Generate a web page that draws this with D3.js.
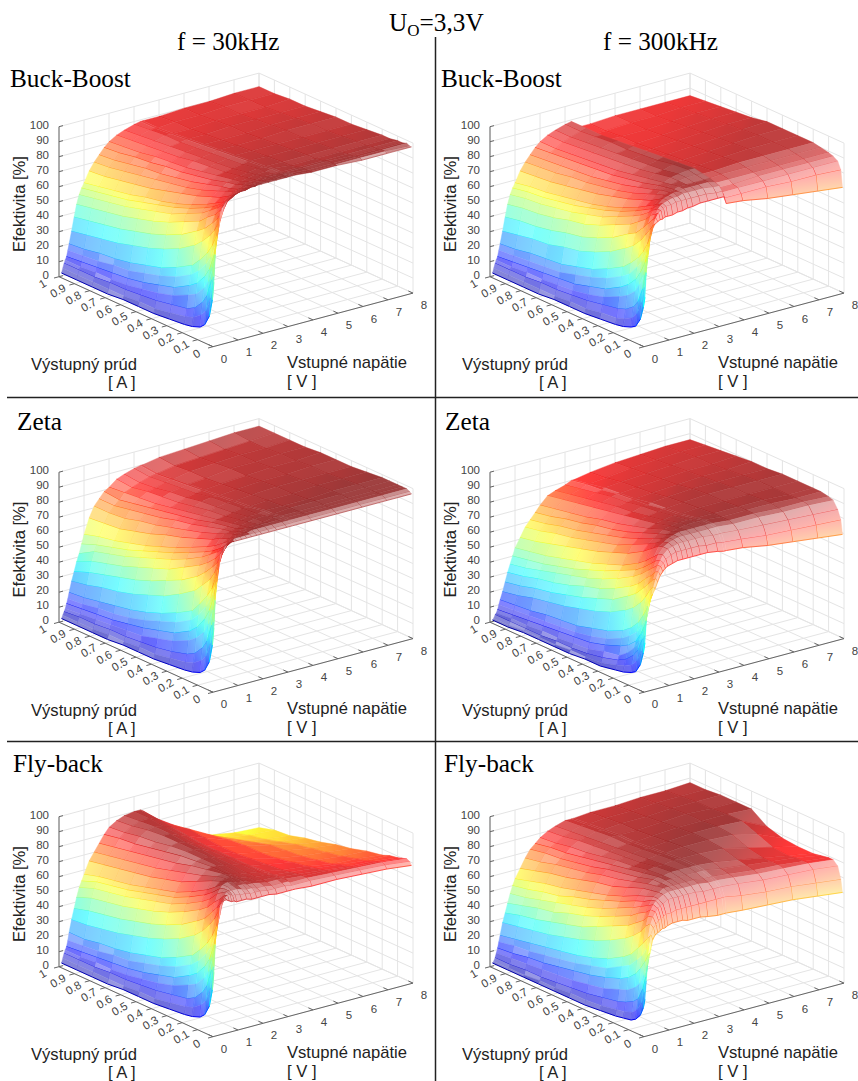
<!DOCTYPE html>
<html lang="sk">
<head>
  <meta charset="UTF-8">
  <title>Efektivita meničov</title>
  <style>
    body { margin: 0; background: white; }
    text { font-family: "Liberation Sans", Arial, sans-serif; fill: #000; }
    .serif { font-family: "Liberation Serif", "Times New Roman", serif; }
    .tick { font-size: 11.5px; fill: #444; }
    .label { font-size: 16.6px; fill: #222; }
  </style>
</head>
<body>
  <svg id="chart" width="858" height="1081"></svg>

  <script src="https://d3js.org/d3.v7.min.js"></script>
  <script>
    // grid the tables are read on
    const currents = [0.01, 0.02, 0.04, 0.07, 0.1, 0.15, 0.2, 0.3, 0.4, 0.5, 0.6, 0.7, 0.8, 0.9, 1];
    const voltages = [0.1, 0.15, 0.2, 0.25, 0.3, 0.35, 0.4, 0.5, 0.6, 0.7, 0.8, 0.9, 1, 1.2, 1.4, 1.6, 1.8, 2, 2.3, 2.6, 3, 3.25, 3.35, 4, 5, 6, 7, 8];

    const currentTicks = [0, 0.1, 0.2, 0.3, 0.4, 0.5, 0.6, 0.7, 0.8, 0.9, 1];
    const voltageTicks = [0, 1, 2, 3, 4, 5, 6, 7, 8];
    const effTicks = [0, 10, 20, 30, 40, 50, 60, 70, 80, 90, 100];

    // efficiency [%], one row per current, one column per voltage
    const buckBoost30 = [
      [42,60,72,78,84,88,90,92,94,95,96,97,97,98,98,99,99,99,99,99,99,99,99,98,98,97,97,97],
      [30,45,60,66,72,77,81,86,90,93,94,95,96,97,97,98,98,99,99,99,99,99,99,98,98,98,98,97],
      [18,30,42,50,58,64,70,79,85,88,91,92,93,95,96,96,97,98,98,98,99,99,99,98,98,98,98,98],
      [11,20,30,39,47,55,62,72,79,84,87,89,90,92,94,95,96,97,97,98,98,98,98,98,98,97,97,97],
      [8,16,24,33,41,49,56,67,75,80,84,86,87,90,92,93,95,96,96,97,97,97,97,97,97,97,97,97],
      [6,12,18,27,34,42,49,61,69,76,80,82,84,87,90,91,93,94,95,96,96,97,97,96,96,96,96,96],
      [5,10,15,24,30,37,43,56,65,71,76,79,81,85,88,90,92,93,94,95,96,96,96,96,96,96,96,96],
      [4,8,13,19,24,31,37,49,58,66,71,74,76,81,84,87,89,91,92,93,94,95,95,95,95,95,95,95],
      [3,6,11,16,21,27,32,44,53,61,66,70,72,78,81,84,87,89,91,92,93,94,94,94,94,94,94,94],
      [3,6,10,14,18,24,29,40,49,57,63,67,69,75,79,82,85,87,90,91,92,93,93,93,93,94,94,94],
      [3,5,9,12,16,21,26,37,46,54,60,64,67,72,77,80,84,86,88,90,91,92,92,92,92,93,93,93],
      [2,5,9,11,15,20,24,34,43,51,57,61,64,70,75,79,82,85,87,89,90,91,91,91,92,92,92,92],
      [2,5,8,11,14,18,23,32,41,49,55,59,62,68,73,77,81,83,86,88,90,90,90,90,91,91,91,92],
      [2,5,8,10,13,17,21,30,39,47,53,57,60,66,71,75,79,82,85,87,89,89,89,90,90,91,91,91],
      [2,5,8,10,12,16,20,28,37,45,51,55,58,65,70,74,78,81,84,86,88,89,89,89,90,90,91,91]
    ];

    const buckBoost300 = [
      [32,48,58,65,70,73,76,79,80,81,81,82,82,82,83,83,84,84,85,85,85,85,80,79,76,74,72,70],
      [25,38,48,55,61,68,72,78,82,85,86,87,88,88,89,89,89,89,89,89,88,88,83,83,83,82,82,81],
      [16,27,36,45,53,60,65,74,80,83,86,88,89,90,91,91,92,92,92,92,91,91,86,86,86,86,86,86],
      [10,18,26,37,45,52,58,69,76,81,84,86,87,90,91,92,92,93,93,93,93,92,87,87,88,88,88,88],
      [8,14,21,31,39,47,53,64,72,77,81,83,85,88,90,91,92,93,93,93,93,93,89,89,89,89,89,89],
      [6,11,17,26,33,40,47,58,66,73,77,80,82,85,88,90,91,92,93,94,94,94,89,90,90,90,90,90],
      [5,9,15,23,29,36,42,54,63,69,74,77,79,83,86,88,90,91,93,94,95,95,90,90,91,91,91,91],
      [4,8,13,18,23,30,36,47,56,64,69,72,74,79,82,85,87,89,91,92,94,94,89,89,90,91,91,91],
      [3,6,11,15,20,26,31,42,51,59,64,68,70,76,79,82,85,87,89,91,92,93,88,88,89,90,91,91],
      [3,6,10,13,17,23,28,38,47,55,61,65,67,73,77,80,83,85,88,90,91,92,87,87,88,89,90,91],
      [3,5,9,12,16,20,25,36,45,53,58,62,65,71,75,78,82,84,87,89,90,91,86,86,87,88,89,89],
      [2,5,9,11,15,19,24,33,42,50,56,60,63,69,74,77,81,83,86,88,90,90,85,85,86,87,88,88],
      [2,5,8,11,14,18,23,32,40,48,54,58,61,67,72,76,80,82,85,87,89,89,85,85,85,86,87,87],
      [2,5,8,10,13,17,21,30,39,47,53,57,60,66,71,75,79,81,84,86,88,89,84,84,85,85,86,86],
      [2,5,8,10,12,16,20,28,37,45,51,55,58,65,70,74,78,81,84,86,88,89,84,84,85,85,85,85]
    ];

    const zeta30 = [
      [42,60,72,80,86,90,91,94,95,96,96,96,96,96,96,96,96,96,96,96,96,96,96,96,96,96,96,96],
      [30,45,60,67,74,80,85,90,92,94,95,96,97,97,97,97,97,97,97,97,97,97,97,97,97,97,97,97],
      [18,30,42,52,61,68,74,82,87,90,92,93,95,96,97,97,98,98,98,98,98,98,98,98,98,98,98,98],
      [11,20,30,41,50,58,64,74,80,85,88,90,92,94,95,96,97,97,98,98,98,98,98,98,98,98,98,98],
      [8,16,24,34,43,51,58,68,76,81,85,87,90,92,94,95,96,96,97,97,98,98,98,98,98,98,98,98],
      [6,12,18,28,35,43,50,62,70,76,81,83,86,90,92,93,94,95,96,97,97,97,97,98,98,98,98,98],
      [5,10,15,24,30,37,43,56,65,72,77,80,83,87,90,92,93,94,95,96,96,97,97,97,97,98,98,98],
      [4,8,12,19,24,31,37,49,58,66,71,75,78,83,86,89,91,92,93,94,95,95,95,96,96,97,97,97],
      [3,6,10,16,21,27,32,43,53,60,66,70,73,79,83,86,88,90,92,93,94,94,94,95,96,96,96,96],
      [3,6,9,13,18,23,28,39,48,56,62,66,69,76,80,84,86,88,90,92,93,93,93,94,95,95,96,96],
      [3,5,8,12,16,20,25,35,44,52,58,62,65,72,77,81,84,86,88,90,91,92,92,93,94,95,95,96],
      [2,5,8,11,14,18,23,32,41,48,54,58,62,69,75,79,82,84,87,89,90,91,91,92,94,94,95,95],
      [2,4,7,10,13,17,21,30,38,45,51,55,59,66,72,77,80,83,86,87,89,90,90,92,93,94,94,95],
      [2,4,7,9,12,15,19,27,35,42,48,52,57,65,71,75,78,82,84,86,88,89,89,91,92,93,94,95],
      [2,4,6,8,11,14,18,25,31,37,42,48,54,64,71,75,79,81,85,87,89,90,90,92,93,94,95,95]
    ];

    // this one: one row per voltage, one column per current
    const zeta300ByVoltage = [
      [32,25,16,10,8,6,5,3,3,2,2,2,2,1,1],
      [46,36,25,17,13,10,8,5,4,4,3,3,3,2,2],
      [56,46,33,24,19,14,11,8,6,5,5,4,4,4,4],
      [58,50,38,30,24,18,14,12,9,8,7,7,6,6,5],
      [60,54,42,34,28,23,20,16,13,12,11,10,9,8,7],
      [62,57,47,40,34,29,25,20,17,15,14,13,12,11,10],
      [63,60,53,46,40,34,30,25,22,19,18,17,15,14,13],
      [66,67,64,58,53,47,43,37,33,30,27,25,23,20,18],
      [70,72,70,66,62,56,52,45,41,37,34,31,29,26,24],
      [74,76,75,71,68,62,58,52,47,44,40,37,35,32,30],
      [76,79,79,76,73,68,64,58,53,49,46,43,40,37,35],
      [78,81,82,80,77,72,68,63,58,54,50,47,44,42,40],
      [79,83,85,84,81,76,72,66,62,58,55,52,49,47,45],
      [80,85,88,88,87,83,79,73,69,65,62,59,56,53,51],
      [81,86,89,90,89,86,83,78,73,70,67,64,62,59,57],
      [81,86,90,91,91,88,86,81,77,74,71,68,66,63,61],
      [81,86,90,92,92,90,88,84,80,77,75,72,70,67,65],
      [81,86,90,92,93,91,90,86,83,80,78,75,73,71,69],
      [81,86,90,92,93,92,91,88,86,84,82,80,78,76,74],
      [81,85,90,92,93,93,92,89,87,85,84,82,80,78,76],
      [80,85,89,92,93,93,92,90,88,87,85,84,82,80,78],
      [79,84,89,92,93,93,92,90,89,87,86,85,83,82,80],
      [79,84,89,92,93,93,92,90,89,88,86,85,84,82,80],
      [78,83,88,91,92,92,92,91,90,89,87,86,85,83,82],
      [75,81,87,91,92,92,92,91,91,90,88,87,86,85,84],
      [73,80,86,90,91,92,92,91,91,90,89,88,87,86,85],
      [71,79,85,90,91,91,91,91,91,90,89,88,88,87,86],
      [69,78,84,89,90,91,91,91,91,90,90,89,88,87,86]
    ];

    const flyback30 = [
      [42,60,72,78,84,86,87,88,88,87,86,86,85,85,85,84,84,84,84,83,83,83,83,82,82,81,80,78],
      [30,45,60,66,72,76,79,86,89,90,90,89,89,88,88,87,87,87,86,86,86,85,85,85,84,83,82,80],
      [18,30,42,50,58,64,70,80,85,89,91,91,91,91,90,89,89,88,88,87,87,87,86,86,85,84,83,81],
      [11,20,30,39,47,55,62,73,80,85,89,91,92,92,91,91,90,90,89,88,88,87,87,86,85,83,82,80],
      [8,16,24,33,41,49,56,68,76,82,87,90,92,93,92,91,91,90,89,88,88,87,87,86,84,82,81,79],
      [6,12,18,27,34,42,49,61,69,76,81,85,88,91,92,92,91,90,89,88,87,87,86,85,83,81,79,78],
      [5,10,15,24,30,37,43,56,65,72,77,81,84,89,91,92,91,90,89,88,87,86,86,84,82,79,78,76],
      [4,8,13,19,24,31,37,49,58,66,71,75,78,84,87,90,91,91,90,89,87,86,85,83,80,77,75,74],
      [3,6,11,16,21,27,32,44,53,61,66,70,73,79,84,88,90,91,91,89,87,86,85,82,78,75,73,71],
      [3,6,10,14,18,24,29,40,49,57,63,67,70,76,81,85,89,91,91,90,87,86,85,81,77,74,71,69],
      [3,5,9,12,16,21,26,37,46,54,60,64,67,73,78,83,87,90,91,90,87,86,85,81,77,73,69,66],
      [2,5,9,11,15,20,24,34,43,51,57,61,64,71,76,81,85,88,91,91,88,87,86,82,76,70,66,64],
      [2,5,8,11,14,18,23,32,41,49,55,59,62,69,74,79,83,87,90,91,89,88,87,83,74,67,63,61],
      [2,5,8,10,13,17,21,30,39,47,53,57,60,67,72,77,82,85,88,90,90,89,88,81,71,64,61,60],
      [2,5,8,10,12,16,21,29,36,43,49,53,57,65,70,75,80,84,87,89,90,90,89,78,68,61,58,57]
    ];

    // also one row per voltage
    const flyback300ByVoltage = [
      [24,18,12,8,6,5,4,3,2,2,2,2,2,2,2],
      [36,28,20,14,11,9,8,6,5,5,4,4,3,3,3],
      [46,38,29,21,18,15,13,11,9,8,7,6,6,5,5],
      [50,44,38,31,27,23,21,17,15,13,12,11,10,9,8],
      [54,52,47,41,36,31,28,24,21,19,17,15,14,12,11],
      [58,60,55,49,45,39,36,30,27,24,22,20,18,17,15],
      [62,65,62,57,53,46,42,36,32,29,27,25,23,21,19],
      [65,69,71,68,63,58,54,48,43,39,36,33,31,29,27],
      [66,71,75,74,70,66,62,57,52,47,44,41,38,36,33],
      [67,73,78,78,75,72,68,63,58,54,51,47,45,42,39],
      [68,74,80,81,79,76,73,68,63,59,56,53,50,47,45],
      [68,75,81,83,82,79,77,72,68,64,61,57,55,52,50],
      [69,76,82,84,84,82,80,75,71,68,65,62,60,57,54],
      [70,76,84,86,86,85,84,80,76,74,71,68,66,63,60],
      [70,77,84,87,88,87,86,83,80,78,75,73,71,68,66],
      [70,77,84,87,88,88,88,85,83,81,78,76,74,73,71],
      [69,77,84,87,88,89,89,87,85,83,81,79,77,76,74],
      [69,77,84,87,88,89,89,88,86,85,83,81,80,78,77],
      [69,77,84,87,88,89,90,89,87,86,85,84,83,81,80],
      [68,77,83,87,88,89,90,89,88,87,86,85,84,83,82],
      [67,77,83,86,87,89,90,90,89,88,87,87,86,85,84],
      [67,77,83,86,87,89,90,90,89,88,87,87,86,85,84],
      [67,77,83,86,87,89,90,90,89,88,87,87,86,85,84],
      [66,75,82,85,86,87,89,90,90,89,88,87,87,86,85],
      [65,73,80,83,84,85,86,89,90,90,89,88,87,86,85],
      [64,72,79,82,83,83,83,85,89,90,89,89,88,87,86],
      [62,70,78,81,81,81,80,81,85,89,89,88,88,87,86],
      [60,68,76,79,79,78,77,77,78,81,88,88,88,87,87]
    ];

    const panelNames = ["Buck-Boost", "Buck-Boost", "Zeta", "Zeta", "Fly-back", "Fly-back"];
    const panelTables = [buckBoost30, buckBoost300, zeta30, d3.transpose(zeta300ByVoltage), flyback30, d3.transpose(flyback300ByVoltage)];
    const colShift = [0, 431];
    const rowShift = [0, 345.5, 690];

    // projection of the 3D box onto the page
    const xFromI = d3.scaleLinear().domain([0, 1]).range([213, 59]);
    const yFromI = d3.scaleLinear().domain([0, 1]).range([346.7, 276.7]);
    const xFromV = d3.scaleLinear().domain([0, 8]).range([0, 200]);
    const yFromV = d3.scaleLinear().domain([0, 8]).range([0, -53.6]);
    const yFromZ = d3.scaleLinear().domain([0, 100]).range([0, -150]);
    const project = (i, v, z) => [xFromI(i) + xFromV(v), yFromI(i) + yFromV(v) + yFromZ(z)];

    // jet colormap, stretched to the highest value of each panel like matlab does
    const jetStops = [0, 0.125, 0.375, 0.625, 0.875, 1];
    const jetColors = ["#00008f", "#0000ff", "#00ffff", "#ffff00", "#ff0000", "#800000"];

    // the original is a wire mesh with a step of 0.01 A and 0.1 V, so its colour
    // strength depends on how tightly those wires sit on the page
    const wire = 0.8;
    const stepI = 0.01, stepV = 0.1;
    const dist = (p, q) => Math.hypot(p[0] - q[0], p[1] - q[1]);

    const svg = d3.select("#chart");
    svg.append("rect").attr("width", 858).attr("height", 1081).attr("fill", "white");
    const defs = svg.append("defs");
    let gradCount = 0;

    const seg = (g, a, b, color, width) => g.append("line")
      .attr("x1", a[0]).attr("y1", a[1]).attr("x2", b[0]).attr("y2", b[1])
      .attr("stroke", color).attr("stroke-width", width);

    function drawBox(g) {
      const grid = "#e4e4e4";
      currentTicks.forEach(i => {
        seg(g, project(i, 0, 0), project(i, 8, 0), grid, 1);
        seg(g, project(i, 8, 0), project(i, 8, 100), grid, 1);
      });
      voltageTicks.forEach(v => {
        seg(g, project(0, v, 0), project(1, v, 0), grid, 1);
        seg(g, project(1, v, 0), project(1, v, 100), grid, 1);
      });
      effTicks.forEach(z => {
        seg(g, project(1, 0, z), project(1, 8, z), grid, 1);
        seg(g, project(1, 8, z), project(0, 8, z), grid, 1);
      });

      const axis = "#666";
      seg(g, project(1, 0, 0), project(0, 0, 0), axis, 1);
      seg(g, project(0, 0, 0), project(0, 8, 0), axis, 1);
      seg(g, project(1, 0, 0), project(1, 0, 100), axis, 1);

      currentTicks.forEach(i => {
        const p = project(i, 0, 0);
        seg(g, p, project(i, -0.2, 0), axis, 1);
        g.append("text").attr("class", "tick")
          .attr("text-anchor", "middle")
          .attr("dy", "0.35em")
          .attr("transform", `translate(${p[0] - 16.5},${p[1] + 7}) rotate(-30)`)
          .text(i);
      });
      voltageTicks.forEach(v => {
        const p = project(0, v, 0);
        seg(g, p, project(0.03, v, 0), axis, 1);
        g.append("text").attr("class", "tick")
          .attr("text-anchor", "middle")
          .attr("x", p[0] + 11).attr("y", p[1] + 16)
          .text(v);
      });
      effTicks.forEach(z => {
        const p = project(1, 0, z);
        seg(g, p, project(1, 0.16, z), axis, 1);
        g.append("text").attr("class", "tick")
          .attr("text-anchor", "end")
          .attr("x", p[0] - 10).attr("y", p[1] + 2)
          .text(z);
      });
    }

    function drawSurface(g, table) {
      const top = d3.max(table.flat());
      const jet = d3.scaleLinear().domain(jetStops.map(s => s * top)).range(jetColors);

      // back to front, the viewer stands at the corner I=0, V=0
      for (let a = currents.length - 2; a >= 0; a--) {
        for (let b = voltages.length - 2; b >= 0; b--) {
          const corners = [
            project(currents[a], voltages[b], table[a][b]),
            project(currents[a], voltages[b + 1], table[a][b + 1]),
            project(currents[a + 1], voltages[b + 1], table[a + 1][b + 1]),
            project(currents[a + 1], voltages[b], table[a + 1][b])
          ];
          const zNear = (table[a][b] + table[a][b + 1]) / 2;
          const zFar = (table[a + 1][b] + table[a + 1][b + 1]) / 2;

          const cellsV = (voltages[b + 1] - voltages[b]) / stepV;
          const cellsI = (currents[a + 1] - currents[a]) / stepI;
          const area = Math.max(Math.abs(d3.polygonArea(corners)) / (cellsV * cellsI), 0.5);
          const alongV = dist(corners[0], corners[1]) / cellsV;
          const alongI = dist(corners[0], corners[3]) / cellsI;
          const gapV = area / alongI;   // distance between lines of constant voltage
          const gapI = area / alongV;   // distance between lines of constant current
          const strength = Math.max(0.32, Math.min(wire / gapI, 0.78));
          const shade = z => d3.interpolateRgb("#fff", jet(z))(strength);

          const id = "cell" + gradCount++;
          const grad = defs.append("linearGradient").attr("id", id)
            .attr("gradientUnits", "userSpaceOnUse")
            .attr("x1", (corners[0][0] + corners[1][0]) / 2).attr("y1", (corners[0][1] + corners[1][1]) / 2)
            .attr("x2", (corners[3][0] + corners[2][0]) / 2).attr("y2", (corners[3][1] + corners[2][1]) / 2);
          grad.append("stop").attr("offset", 0).attr("stop-color", shade(zNear));
          grad.append("stop").attr("offset", 1).attr("stop-color", shade(zFar));

          g.append("path")
            .attr("d", d3.line()(corners) + "Z")
            .attr("fill", `url(#${id})`)
            .attr("stroke", shade((zNear + zFar) / 2))
            .attr("stroke-width", 0.4)
            .attr("stroke-linejoin", "round");

          // the wires themselves show where they stand apart
          const onTenth = Math.abs(voltages[b] * 10 - Math.round(voltages[b] * 10)) < 1e-6;
          if (onTenth) {
            seg(g, corners[0], corners[3], jet((zNear + zFar) / 2), 1)
              .attr("stroke-opacity", Math.max(0.2, Math.min(1, gapV / 3)));
          }
          seg(g, corners[0], corners[1], jet(zNear), 0.7)
            .attr("stroke-opacity", Math.max(0.1, Math.min(0.9, gapI / 4)));
        }
      }
    }

    function drawLabels(g) {
      g.append("text").attr("class", "label")
        .attr("text-anchor", "middle")
        .attr("transform", "translate(25,204) rotate(-90)")
        .text("Efektivita [%]");
      g.append("text").attr("class", "label").attr("x", 31).attr("y", 370).text("Výstupný prúd");
      g.append("text").attr("class", "label").attr("x", 108).attr("y", 388).text("[ A ]");
      g.append("text").attr("class", "label").attr("x", 287).attr("y", 368).text("Vstupné napätie");
      g.append("text").attr("class", "label").attr("x", 287).attr("y", 387).text("[ V ]");
    }

    panelTables.forEach((table, k) => {
      const col = k % 2, row = Math.floor(k / 2);
      const g = svg.append("g").attr("transform", `translate(${colShift[col]},${rowShift[row]})`);
      drawBox(g);
      drawSurface(g, table);
      drawLabels(g);
    });

    // frame lines
    seg(svg, [7, 397.5], [858, 397.5], "#222", 1.5);
    seg(svg, [7, 741.5], [858, 741.5], "#222", 1.5);
    seg(svg, [435.5, 37], [435.5, 1081], "#222", 1.5);

    // headings
    const heading = (x, y, size, txt) => svg.append("text").attr("class", "serif")
      .attr("x", x).attr("y", y).attr("font-size", size).text(txt);
    const titleX = [10, 441, 17, 445, 13, 444];
    const titleY = [87, 87, 430, 430, 772, 772];
    panelNames.forEach((name, k) => heading(titleX[k], titleY[k], 25.3, name));
    heading(177, 50, 25.2, "f = 30kHz");
    heading(603, 50, 25.2, "f = 300kHz");

    const uo = heading(389, 31, 25.3, "U");
    uo.append("tspan").attr("font-size", 17).attr("dy", 5).text("O");
    uo.append("tspan").attr("dy", -5).text("=3,3V");
  </script>
</body>
</html>
